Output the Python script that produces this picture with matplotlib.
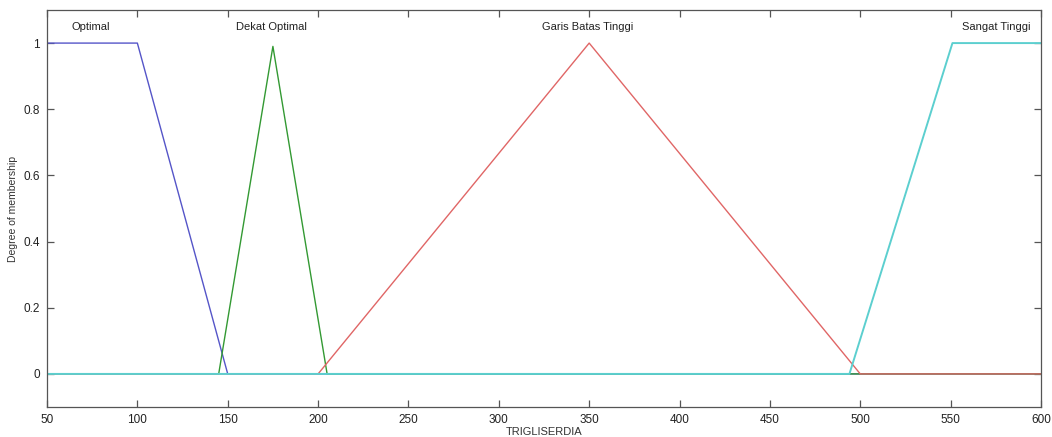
import matplotlib
matplotlib.use("Agg")
import matplotlib.pyplot as plt

# Membership function vertices (x, degree)
optimal_x = [50, 100, 150, 600]
optimal_y = [1, 1, 0, 0]
dekat_x = [50, 145, 175, 205, 600]
dekat_y = [0, 0, 0.99, 0, 0]
garis_x = [50, 200, 350, 500, 600]
garis_y = [0, 0, 1, 0, 0]
sangat_x = [50, 494, 551, 600]
sangat_y = [0, 0, 1, 1]

mf_names = ["Optimal", "Dekat Optimal", "Garis Batas Tinggi", "Sangat Tinggi"]
label_x = [74, 174, 349, 575]

xticks = [50, 100, 150, 200, 250, 300, 350, 400, 450, 500, 550, 600]
yticks = [0, 0.2, 0.4, 0.6, 0.8, 1]

plt.rcParams['font.family'] = ['Liberation Sans', 'DejaVu Sans']

fig = plt.figure(figsize=(10.52, 4.37), dpi=100)
ax = fig.add_axes([47/1052, 30/437, (1041-47)/1052, (407-10)/437])

ax.plot(optimal_x, optimal_y, color='#5555c8', lw=1.0)
ax.plot(dekat_x, dekat_y, color='#339933', lw=1.0)
ax.plot(garis_x, garis_y, color='#e06666', lw=1.0)
ax.plot(sangat_x, sangat_y, color='#5ccfcf', lw=1.4)

for name, lx in zip(mf_names, label_x):
    ax.text(lx, 1.05, name, ha='center', va='center', fontsize=8, color='#222222')

ax.set_xlim(50, 600)
ax.set_ylim(-0.1, 1.1)
ax.set_xticks(xticks)
ax.set_xticklabels([str(v) for v in xticks])
ax.set_yticks(yticks)
ax.set_yticklabels(['0', '0.2', '0.4', '0.6', '0.8', '1'])
ax.tick_params(direction='in', top=True, right=True, length=5, width=0.9,
               colors='#555555', labelcolor='#222222', labelsize=8.5, pad=5)
for s in ax.spines.values():
    s.set_color('#555555')
    s.set_linewidth(0.9)

ax.set_xlabel('TRIGLISERDIA', fontsize=8, color='#333333', labelpad=1)
ax.set_ylabel('Degree of membership', fontsize=7.5, color='#333333', labelpad=4)

fig.savefig('out.png', dpi=100)
